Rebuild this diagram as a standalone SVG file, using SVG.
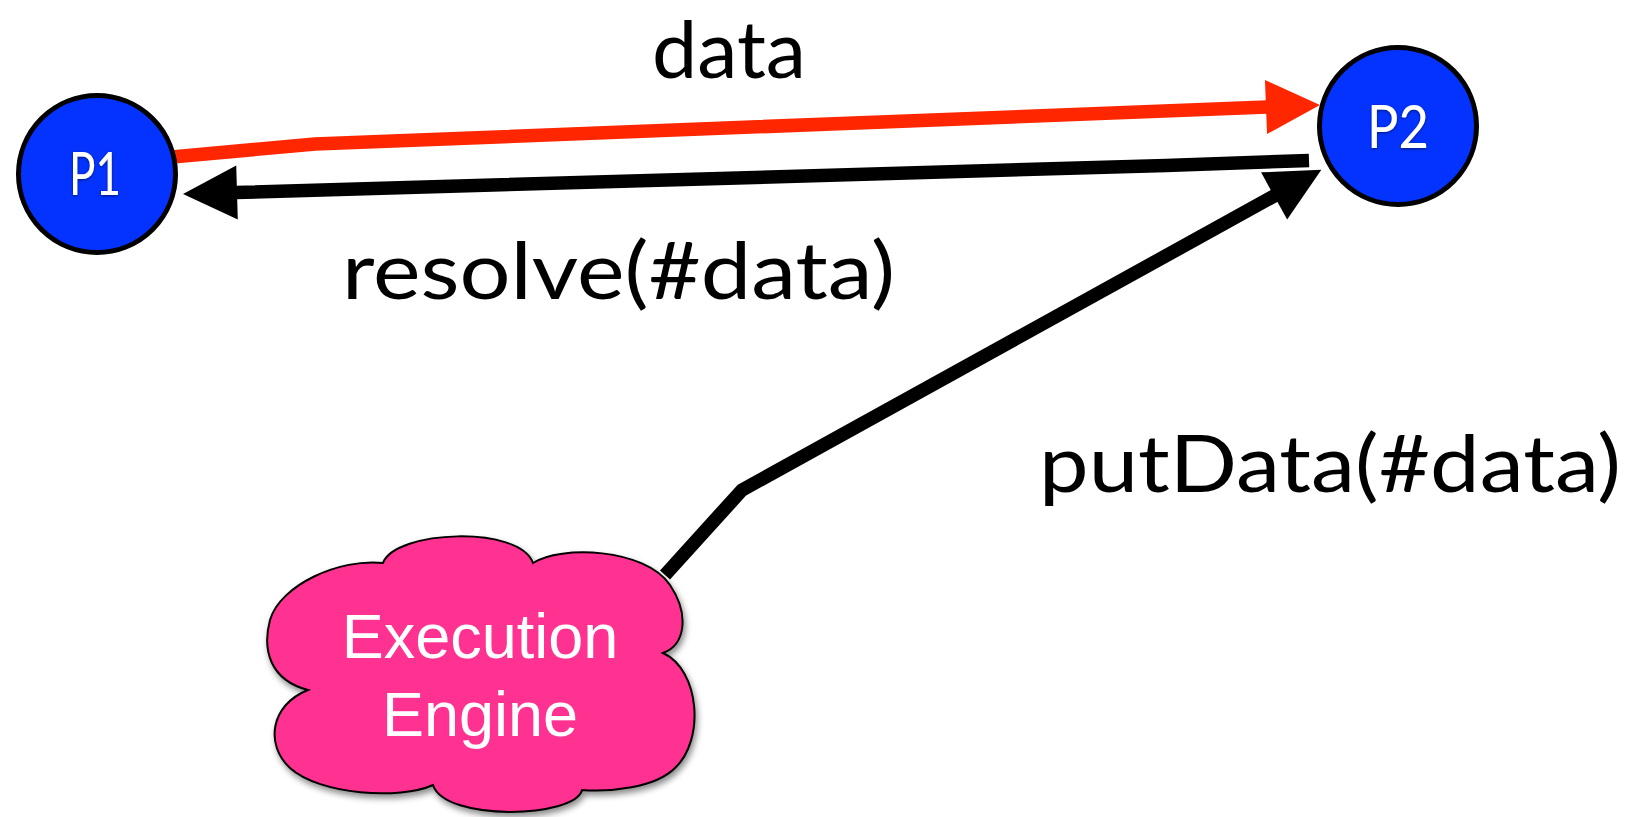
<svg xmlns="http://www.w3.org/2000/svg" width="1640" height="817" viewBox="0 0 1640 817">
  <style>
    .label { font-family: Lato, "Open Sans", "Liberation Sans", sans-serif; font-size: 80px; fill: #000; }
    .node-circle { fill: #0433FF; stroke: #000; stroke-width: 5; }
    .node-text { font-family: Lato, "Open Sans", "Liberation Sans", sans-serif; font-size: 60px; fill: #fff; text-anchor: middle; }
    .cloud { fill: #FF3192; stroke: #000; stroke-width: 2; }
    .cloud-text { font-family: "Liberation Sans", Arial, sans-serif; font-size: 63px; fill: #fff; text-anchor: middle; }
    .wire { fill: none; stroke-width: 13.5; stroke-linejoin: miter; stroke-linecap: butt; }
    .wire-red { stroke: #FF2600; }
    .wire-black { stroke: #000; }
  </style>
  <defs>
    <marker id="head-red" markerUnits="userSpaceOnUse" markerWidth="56" markerHeight="56" refX="1" refY="27" orient="auto" overflow="visible">
      <path d="M0,0 L54,27 L0,54 Z" fill="#FF2600"/>
    </marker>
    <marker id="head-black" markerUnits="userSpaceOnUse" markerWidth="56" markerHeight="56" refX="1" refY="27" orient="auto" overflow="visible">
      <path d="M0,0 L54,27 L0,54 Z" fill="#000"/>
    </marker>
    <filter id="text-glow" x="-20%" y="-20%" width="140%" height="140%">
      <feDropShadow dx="0" dy="1" stdDeviation="1.5" flood-color="#000" flood-opacity="0.55"/>
    </filter>
    <filter id="cloud-shadow" x="-10%" y="-10%" width="125%" height="130%">
      <feDropShadow dx="2" dy="4" stdDeviation="3" flood-color="#000" flood-opacity="0.45"/>
    </filter>
  </defs>

  <rect width="1640" height="817" fill="#fff"/>

  <!-- connectors -->
  <g id="connectors">
    <path id="edge-data" class="wire wire-red" d="M172,157 L315,144 L1267,107" marker-end="url(#head-red)"/>
    <path id="edge-resolve" class="wire wire-black" d="M1309,160.5 L1166,165.5 L236,192.5" marker-end="url(#head-black)"/>
    <path id="edge-putdata" class="wire wire-black" d="M665,575 L742,490 L1275,195.5" marker-end="url(#head-black)"/>
  </g>

  <!-- edge labels -->
  <g id="labels">
    <text class="label" x="652" y="78" textLength="154" lengthAdjust="spacingAndGlyphs">data</text>
    <text class="label" x="342" y="299" textLength="553" lengthAdjust="spacingAndGlyphs">resolve(#data)</text>
    <text class="label" x="1039" y="492" textLength="582" lengthAdjust="spacingAndGlyphs">putData(#data)</text>
  </g>

  <!-- process nodes -->
  <g id="node-p1">
    <circle class="node-circle" cx="97" cy="174" r="78.5"/>
    <text class="node-text" x="95" y="195" textLength="52" lengthAdjust="spacingAndGlyphs" filter="url(#text-glow)">P1</text>
  </g>
  <g id="node-p2">
    <circle class="node-circle" cx="1398" cy="126" r="78.5"/>
    <text class="node-text" x="1398" y="148" textLength="62" lengthAdjust="spacingAndGlyphs" filter="url(#text-glow)">P2</text>
  </g>

  <!-- execution engine cloud -->
  <g id="node-engine">
    <path class="cloud" filter="url(#cloud-shadow)" d="
      M308,690
      C270,680 262,650 270,620
      C280,585 340,558 383,563
      C395,530 520,525 533,563
      C560,545 645,548 670,585
      C690,615 685,645 663,653
      C700,670 705,740 675,768
      C655,788 610,792 582,790
      C575,818 445,822 433,785
      C400,800 320,795 290,768
      C265,745 270,705 308,690 Z"/>
    <text class="cloud-text" x="480" y="658">Execution</text>
    <text class="cloud-text" x="480" y="736">Engine</text>
  </g>
</svg>
